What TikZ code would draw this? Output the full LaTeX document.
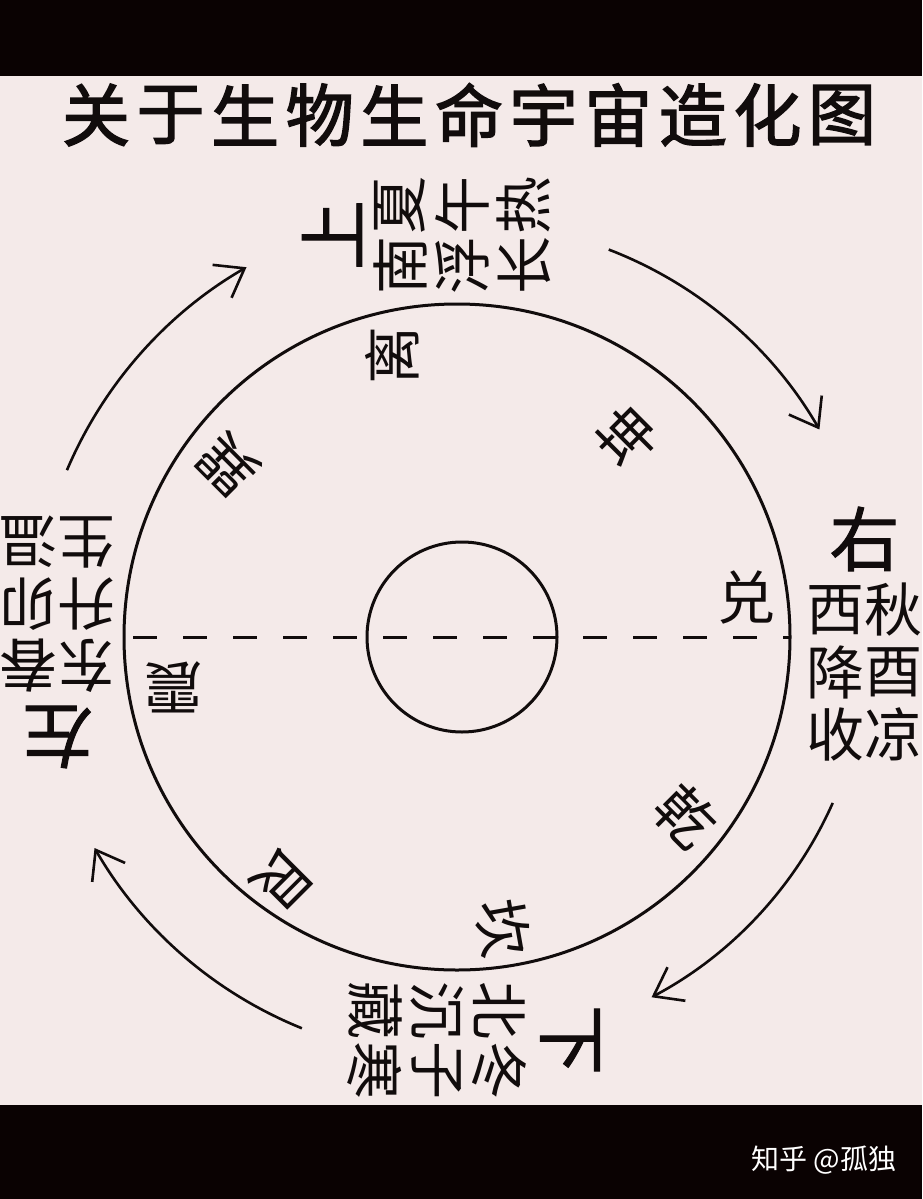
\documentclass[tikz,border=0pt]{standalone}
\usepackage{fontspec}
\newfontfamily\cjk{Noto Sans CJK SC}
\newfontfamily\cjkt[FakeBold=2.2]{Noto Sans CJK SC}
\newfontfamily\cjkm[FakeBold=1.4]{Noto Sans CJK SC}
\usetikzlibrary{arrows.meta}
\definecolor{bg}{RGB}{244,234,233}
\definecolor{band}{RGB}{10,2,2}
\definecolor{ink}{RGB}{17,12,12}
\begin{document}
\begin{tikzpicture}[x=1pt,y=-1pt,
  ch/.style={font=\cjk\fontsize{58}{58}\selectfont, inner sep=0pt, text=ink},
  big/.style={font=\cjkm\fontsize{70}{70}\selectfont, inner sep=0pt, text=ink},
  gua/.style={font=\cjk\fontsize{58}{58}\selectfont, inner sep=0pt, text=ink},
  ttl/.style={font=\cjkt\fontsize{68}{68}\selectfont, inner sep=0pt, text=ink},
  wm/.style={font=\cjk\fontsize{28}{28}\selectfont, inner sep=0pt, text=white},
  ring/.style={draw=ink, line width=3pt},
  axis/.style={draw=ink, line width=3pt, dash pattern=on 24pt off 26pt, dash phase=-8pt},
  flow/.style={draw=ink, line width=2.6pt, -{Straight Barb[length=26pt,width=38pt,line width=2.6pt]}}]
% background and bands
\fill[bg] (0,0) rectangle (922,1199);
\fill[band] (0,0) rectangle (922,76);
\fill[band] (0,1105) rectangle (922,1199);
\useasboundingbox (0,0) rectangle (922,1199);

% title
\foreach \c [count=\i from 0] in {关,于,生,物,生,命,宇,宙,造,化,图}
  \node[ttl] (t\i) at (96+74.6*\i,115) {\c};

% circles and axis
\coordinate (O) at (457,637);
\coordinate (Oi) at (462,637);
\coordinate (Oa) at (460,637);
\draw[ring] (O) circle[radius=333];
\draw[ring] (Oi) circle[radius=95];
\coordinate (axL) at (125,637);
\coordinate (axR) at (790,637);
\draw[axis] (axL) -- (axR);

% trigrams
\node[gua] (dui)  at (746,598) {兑};
\node[gua, rotate=45] (kun) at (627,437) {坤};
\node[gua, rotate=90] (li) at (392,355) {离};
\node[gua, rotate=135] (xun) at (228,465) {巽};
\node[gua, rotate=180] (zhen) at (173,687) {震};
\node[gua, rotate=-135] (gen) at (282,879) {艮};
\node[gua, rotate=-80] (kan) at (503,928) {坎};
\node[gua, rotate=-45] (qian) at (686,816) {乾};

% right group
\begin{scope}[shift={(864.5,672)}, rotate=0, transform shape]
  \node[big] (rB) at (0,-133) {右};
  \node[ch] (r11) at (-29,-62) {西}; \node[ch] (r12) at (-29,0) {降}; \node[ch] (r13) at (-29,62) {收};
  \node[ch] (r21) at (29,-62) {秋};  \node[ch] (r22) at (29,0) {酉};  \node[ch] (r23) at (29,62) {凉};
\end{scope}
% left group
\begin{scope}[shift={(57.5,604)}, rotate=180, transform shape]
  \node[big] (lB) at (0,-133) {左};
  \node[ch] (l11) at (-29,-62) {东}; \node[ch] (l12) at (-29,0) {升}; \node[ch] (l13) at (-29,62) {生};
  \node[ch] (l21) at (29,-62) {春};  \node[ch] (l22) at (29,0) {卯};  \node[ch] (l23) at (29,62) {温};
\end{scope}
% top group
\begin{scope}[shift={(462,235)}, rotate=90, transform shape]
  \node[big] (uB) at (0,-130) {上};
  \node[ch] (u11) at (-30,-62) {南}; \node[ch] (u12) at (-30,0) {浮}; \node[ch] (u13) at (-30,62) {长};
  \node[ch] (u21) at (30,-62) {夏};  \node[ch] (u22) at (30,0) {午};  \node[ch] (u23) at (30,62) {热};
\end{scope}
% bottom group
\begin{scope}[shift={(437,1040)}, rotate=-90, transform shape]
  \node[big] (dB) at (0,-133) {下};
  \node[ch] (d11) at (-30,-62) {北}; \node[ch] (d12) at (-30,0) {沉}; \node[ch] (d13) at (-30,62) {藏};
  \node[ch] (d21) at (30,-62) {冬};  \node[ch] (d22) at (30,0) {子};  \node[ch] (d23) at (30,62) {寒};
\end{scope}

% circulating arrows (clockwise)
\path (Oa) ++(291:415) coordinate (a1);
\path (Oa) ++(24:408) coordinate (a2);
\path (Oa) ++(112:422) coordinate (a3);
\path (Oa) ++(203:427) coordinate (a4);
\draw[flow] (a1) arc[start angle=291, end angle=330, radius=415];
\draw[flow] (a2) arc[start angle=24, end angle=62, radius=408];
\draw[flow] (a3) arc[start angle=112, end angle=150, radius=422];
\draw[flow] (a4) arc[start angle=203, end angle=240, radius=427];

% watermark
\node[wm] (wmk) at (824,1160) {知乎 @孤独};
\end{tikzpicture}
\end{document}
